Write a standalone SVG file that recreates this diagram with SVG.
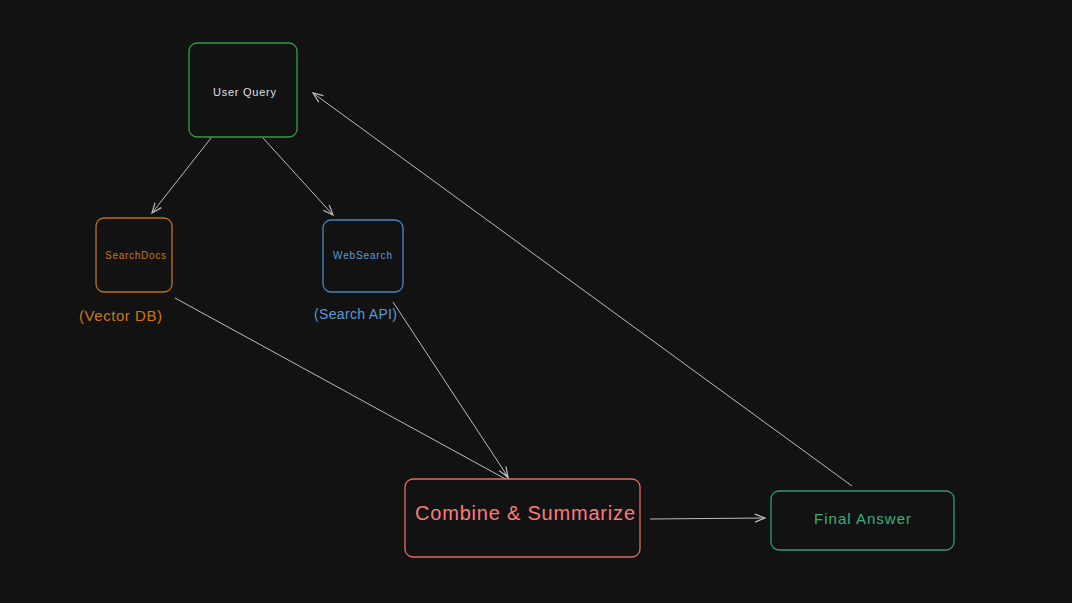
<svg xmlns="http://www.w3.org/2000/svg" width="1072" height="603" viewBox="0 0 1072 603">
<defs>
<style>
.box{fill:#121212;stroke-width:1.3}
.lbl{font-family:"Liberation Sans","DejaVu Sans",sans-serif;text-anchor:middle;dominant-baseline:central}
.conn line{stroke:#bdbdbd;stroke-width:1;fill:none;marker-end:url(#arr)}
</style>
<marker id="arr" viewBox="0 0 12 12" refX="11" refY="6" markerWidth="12" markerHeight="12" markerUnits="userSpaceOnUse" orient="auto">
<path d="M1,2 L11,6 L1,10" fill="none" stroke="#bdbdbd" stroke-width="1.2"/>
</marker>
</defs>
<rect width="1072" height="603" fill="#121212"/>
<g id="connectors" class="conn">
<line x1="211" y1="138" x2="152" y2="213"/>
<line x1="263" y1="138" x2="333" y2="215"/>
<line x1="175" y1="298" x2="511" y2="482"/>
<line x1="393" y1="302" x2="508" y2="477"/>
<line x1="650" y1="519" x2="765" y2="518"/>
<line x1="852" y1="486" x2="313" y2="93"/>
</g>
<g id="user-query">
<rect class="box" x="189" y="43" width="108" height="94" rx="8" stroke="#2f9e44"/>
<text class="lbl" x="244.5" y="92" font-size="11" fill="#e0e0e0" textLength="63" lengthAdjust="spacing">User Query</text>
</g>
<g id="search-docs">
<rect class="box" x="96" y="218" width="76" height="74" rx="8" stroke="#c27010"/>
<text class="lbl" x="135.5" y="255" font-size="10" fill="#cc7810" textLength="61" lengthAdjust="spacing">SearchDocs</text>
<text class="lbl" x="120.5" y="315" font-size="15" fill="#cc7810" textLength="83" lengthAdjust="spacing">(Vector DB)</text>
</g>
<g id="web-search">
<rect class="box" x="323" y="220" width="80" height="72" rx="8" stroke="#4a87c4"/>
<text class="lbl" x="362.5" y="255" font-size="10" fill="#5c9ad6" textLength="59" lengthAdjust="spacing">WebSearch</text>
<text class="lbl" x="355.5" y="314" font-size="14" fill="#5c9ad6" textLength="83" lengthAdjust="spacing">(Search API)</text>
</g>
<g id="combine">
<rect class="box" x="405" y="479" width="235" height="78" rx="8" stroke="#e06c6c"/>
<text class="lbl" x="525" y="513" font-size="20" fill="#ff7b7b" textLength="220" lengthAdjust="spacing">Combine &amp; Summarize</text>
</g>
<g id="final-answer">
<rect class="box" x="771" y="491" width="183" height="59" rx="8" stroke="#2f9e74"/>
<text class="lbl" x="862.5" y="518" font-size="15" fill="#34b07e" textLength="97" lengthAdjust="spacing">Final Answer</text>
</g>
</svg>
